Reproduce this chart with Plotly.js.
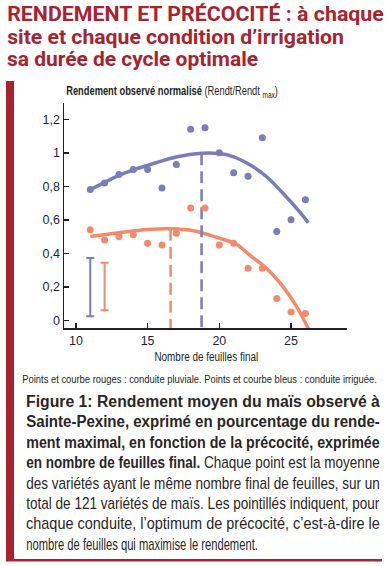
<!DOCTYPE html>
<html><head><meta charset="utf-8">
<script src="https://cdn.plot.ly/plotly-3.0.1.min.js"></script>
<style>html,body{margin:0;padding:0;background:#fff}#chart{width:390px;height:566px}</style>
</head><body><div id="chart"></div>
<script>
// ---- data ----
const leafCount = [11,12,13,14,15,16,17,18,19,20,21,22,23,24,25,26];
const yieldIrrigated = [0.78,0.82,0.87,0.90,0.90,0.79,0.93,1.14,1.15,1.00,0.88,0.86,1.09,0.53,0.60,0.72];
const yieldRainfed   = [0.54,0.48,0.50,0.51,0.46,0.45,0.52,0.67,0.67,0.45,0.46,0.31,0.31,0.13,0.05,0.04];

const fitIrrigatedX = [11,12,13,14,15,17,18.76,20,21,22.1,23.3,24.45,25.6,26.2];
const fitIrrigatedY = [0.78,0.823,0.865,0.898,0.925,0.975,0.997,0.995,0.976,0.93,0.857,0.757,0.647,0.582];
const fitRainfedX = [11,13,15,16.6,18.2,20,21.2,22.1,23.3,24.45,25.4,26.2];
const fitRainfedY = [0.50,0.522,0.542,0.546,0.535,0.49,0.454,0.39,0.309,0.199,0.08,-0.05];

const optimumX   = [18.76, 16.6];   // irrigated, rainfed
const optimumTop = [0.997, 0.546];

const errorBarX    = [11, 12];
const errorBarLow  = [0.024, 0.06];
const errorBarHigh = [0.372, 0.343];

const xTicks = [10,15,20,25];
const yTicks = [0,0.2,0.4,0.6,0.8,1,1.2];
const yTickText = ["0","0,2","0,4","0,6","0,8","1","1,2"];

const titleLines = [
  "RENDEMENT ET PRÉCOCITÉ : à chaque",
  "site et chaque condition d’irrigation",
  "sa durée de cycle optimale"
];
const legendNote = "Points et courbe rouges : conduite pluviale. Points et courbe bleus : conduite irriguée.";
const captionLines = [
  "<b>Figure 1: Rendement moyen du maïs observé à</b>",
  "<b>Sainte-Pexine, exprimé en pourcentage du rende-</b>",
  "<b>ment maximal, en fonction de la précocité, exprimée</b>",
  "<b>en nombre de feuilles final.</b> Chaque point est la moyenne",
  "des variétés ayant le même nombre final de feuilles, sur un",
  "total de 121 variétés de maïs. Les pointillés indiquent, pour",
  "chaque conduite, l’optimum de précocité, c’est-à-dire le",
  "nombre de feuilles qui maximise le rendement."
];

// ---- style ----
const BLUE = '#7c7bbb', ORANGE = '#f58a6b', RED = '#a8232e', INK = '#231f20';
const SANS = 'Liberation Sans, Arial, sans-serif';
const xRange = [9.17, 28.9], yRange = [-0.046, 1.297];
const M = {l:64, r:43, t:103, b:238}, W = 390, H = 566;
const pw = W - M.l - M.r, ph = H - M.t - M.b;
const px = v => (v - M.l) / pw;
const py = v => (H - M.b - v) / ph;

const traces = [];
traces.push({x: fitIrrigatedX, y: fitIrrigatedY, mode:'lines', line:{color:BLUE, width:3.5, shape:'spline'}});
traces.push({x: fitRainfedX, y: fitRainfedY, mode:'lines', line:{color:ORANGE, width:3.5, shape:'spline'}});
const dashColors = [BLUE, ORANGE];
optimumX.forEach((ox, i) => {
  traces.push({x:[ox, ox], y:[optimumTop[i], yRange[0]], mode:'lines', line:{color:dashColors[i], width:2.5, dash:'12px,6px'}});
});
traces.push({x: leafCount, y: yieldIrrigated, mode:'markers', marker:{color:BLUE, size:7}});
traces.push({x: leafCount, y: yieldRainfed, mode:'markers', marker:{color:ORANGE, size:7}});
errorBarX.forEach((ex, i) => {
  const mid = (errorBarLow[i] + errorBarHigh[i]) / 2;
  traces.push({x:[ex], y:[mid], mode:'markers', marker:{size:1, opacity:0},
    error_y:{type:'data', array:[errorBarHigh[i]-mid], arrayminus:[mid-errorBarLow[i]], symmetric:false,
      color:dashColors[i], thickness:2, width:4}});
});

// annotations, each with a target width (px) used to condense it like the original narrow typeface
const annotations = [], fitWidth = [], fitOrigin = [];
function addText(a, w, origin) { annotations.push(Object.assign({xref:'paper', yref:'paper', showarrow:false, yanchor:'middle'}, a)); fitWidth.push(w); fitOrigin.push(origin || 'left'); }

const titleY = [14, 37, 59], titleW = [377, 337, 251];
titleLines.forEach((t, i) => addText({x:px(5), y:py(titleY[i]), xanchor:'left', text:'<b>'+t+'</b>',
  font:{family:'Roboto, sans-serif', size:21, color:RED}}, titleW[i]));
addText({x:px(64), y:py(92), xanchor:'left',
  text:'<b>Rendement observé normalisé</b> (Rendt/Rendt <sub>max</sub>)', font:{family:SANS, size:12, color:INK}}, 212);
addText({x:px(206), y:py(357), xanchor:'center',
  text:'Nombre de feuilles final', font:{family:SANS, size:12.5, color:INK}}, 104, 'center');
addText({x:px(20), y:py(379), xanchor:'left', text:legendNote, font:{family:SANS, size:11.5, color:INK}}, 355);
captionLines.forEach((t, i) => addText({x:px(24), y:py(401.5 + i*20.4), xanchor:'left', text:t,
  font:{family:SANS, size:16, color:'#2a2627'}}, i === captionLines.length-1 ? 232 : 354));

const shapes = [
  {type:'rect', xref:'paper', yref:'paper', x0:px(6), x1:px(14), y0:py(81), y1:py(561), fillcolor:RED, line:{width:0}, layer:'below'},
  {type:'rect', xref:'paper', yref:'paper', x0:px(6), x1:px(382), y0:py(559), y1:py(561.5), fillcolor:RED, line:{width:0}, layer:'below'}
];

const axisCommon = {showline:true, linecolor:INK, linewidth:1.5, ticks:'inside', ticklen:5, tickwidth:1.5, tickcolor:INK,
  showgrid:false, zeroline:false, tickfont:{family:SANS, size:12.5, color:'#1e1f3a'}, fixedrange:true};

const layout = {
  width:W, height:H, margin:M, paper_bgcolor:'#fff', plot_bgcolor:'#fff', showlegend:false, hovermode:false,
  separators:', ',
  xaxis: Object.assign({}, axisCommon, {range:xRange, tickvals:xTicks, ticktext:xTicks.map(String)}),
  yaxis: Object.assign({}, axisCommon, {range:yRange, tickvals:yTicks, ticktext:yTickText}),
  annotations, shapes
};
Plotly.newPlot('chart', traces, layout, {staticPlot:true, displayModeBar:false}).then(gd => {
  gd.querySelectorAll('g.annotation').forEach(g => {
    const i = +g.getAttribute('data-index');
    const t = g.querySelector('text.annotation-text');
    if (!t || !fitWidth[i]) return;
    const w = t.getBBox().width;
    if (!w) return;
    const s = fitWidth[i] / w;
    t.style.transformBox = 'fill-box';
    t.style.transformOrigin = fitOrigin[i] === 'center' ? '50% 50%' : '0 50%';
    t.style.transform = 'scaleX(' + s.toFixed(4) + ')';
  });
});
</script></body></html>
